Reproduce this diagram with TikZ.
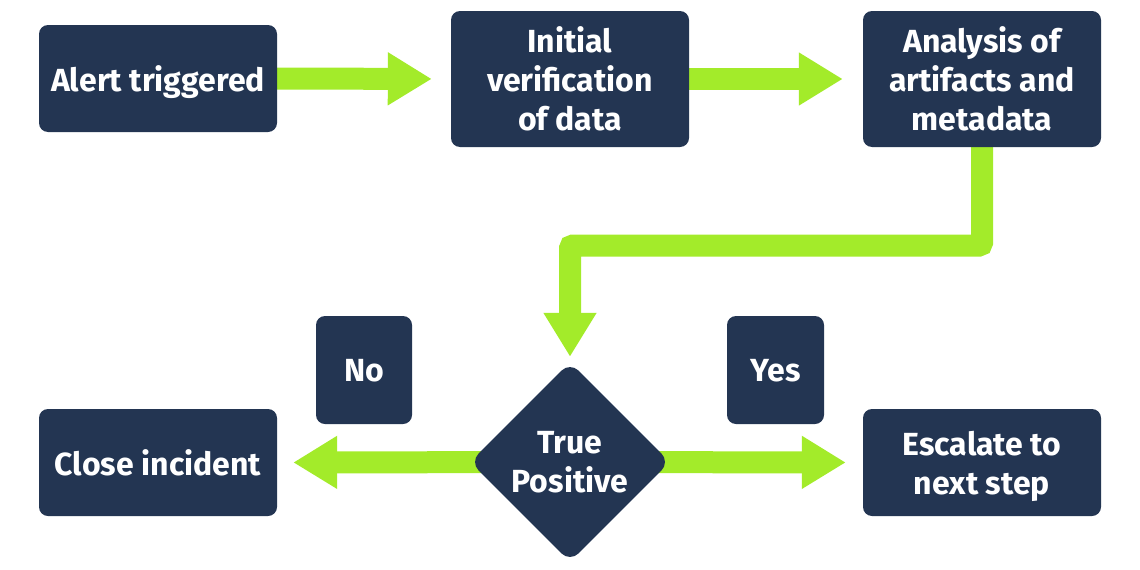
\documentclass[tikz,border=0pt]{standalone}
\usepackage{fontspec}
\setmainfont{Fira Sans}
\usetikzlibrary{shapes.geometric,arrows.meta,backgrounds}
\definecolor{navy}{RGB}{35,53,82}
\definecolor{lime}{RGB}{163,235,42}
\begin{document}
\begin{tikzpicture}[x=1pt,y=1pt,
  txt/.style={text=white,font=\fontsize{32}{39}\selectfont\bfseries,align=center,inner sep=0pt,text depth=0pt},
  box/.style={txt,fill=navy,rounded corners=9pt},
  dia/.style={txt,diamond,fill=navy,rounded corners=12pt,minimum width=200pt,minimum height=200pt},
  flow/.style={draw=lime,line width=22pt,-{Triangle[length=44pt,width=50pt]}}]
\useasboundingbox (0,0) rectangle (1140,-570);
\node[box,minimum width=238pt,minimum height=107pt] (a1) at (158,-78.5) {Alert triggered};
\node[box,minimum width=238pt,minimum height=136pt] (a2) at (570,-79) {Initial\\verification\\of data};
\node[box,minimum width=238pt,minimum height=136pt] (a3) at (982,-79) {Analysis of\\artifacts and\\metadata};
\node[dia] (dec) at (570,-462) {True\\Positive};
\node[box,minimum width=96pt,minimum height=108pt] (no) at (364,-370) {No};
\node[box,minimum width=97pt,minimum height=108pt] (yes) at (775.5,-370) {Yes};
\node[box,minimum width=238pt,minimum height=107pt] (close) at (158,-462.5) {Close incident};
\node[box,minimum width=238pt,minimum height=107pt] (esc) at (982,-462.5) {Escalate to\\next step};
\coordinate (bend) at (570,-245.5);
\begin{pgfonlayer}{background}
\draw[flow,shorten >=19pt] (a1.east) -- (a2.west);
\draw[flow,shorten >=20pt] (a2.east) -- (a3.west);
\draw[flow,shorten >=5pt,rounded corners=3pt] (a3.south) |- (bend) -- (dec.north);
\draw[flow,shorten >=16pt] (dec.center) -- (close.east);
\draw[flow,shorten >=17pt] (dec.center) -- (esc.west);
\end{pgfonlayer}
\end{tikzpicture}
\end{document}
